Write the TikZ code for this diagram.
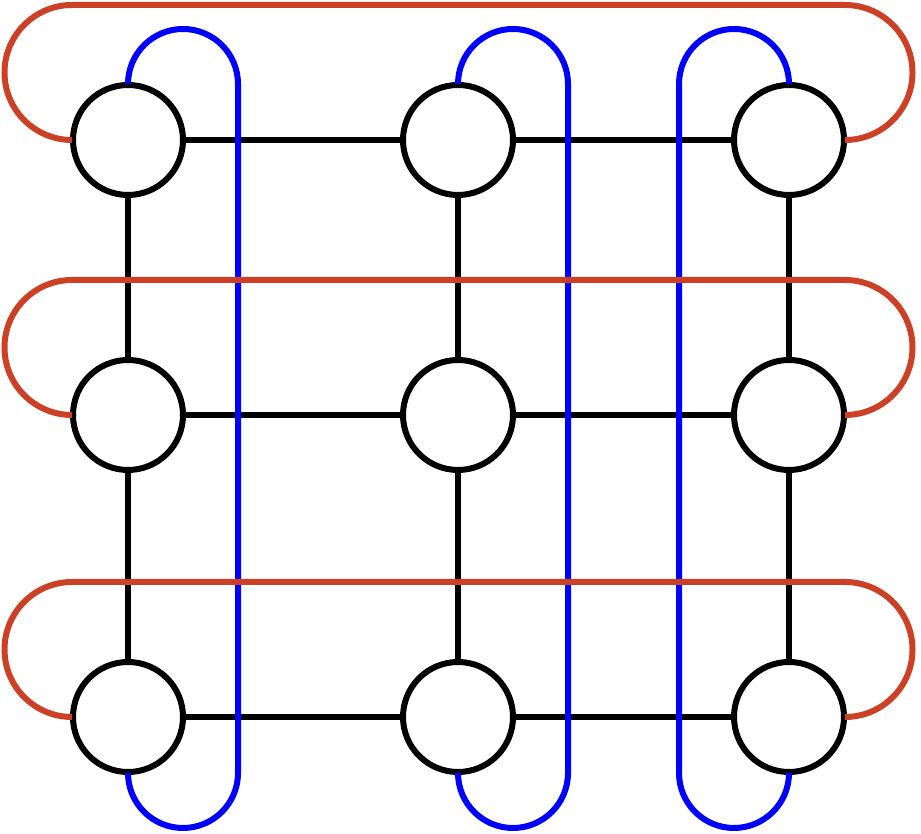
\documentclass[tikz,border=0pt]{standalone}
\definecolor{loopred}{RGB}{204,65,37}
\definecolor{loopblue}{RGB}{0,0,255}
\begin{document}
\begin{tikzpicture}[x=1pt,y=1pt,
  vertex/.style={circle,draw=black,fill=white,line width=6pt,minimum size=110pt,inner sep=0pt,outer sep=1pt},
  gridline/.style={draw=black,line width=6pt},
  redloop/.style={draw=loopred,line width=6pt},
  blueloop/.style={draw=loopblue,line width=6pt}]
\useasboundingbox (0,0) rectangle (921,834);
% nodes
\foreach \r/\y in {1/694,2/419,3/117}{
  \foreach \c/\x in {1/128,2/458,3/789}{
    \node[vertex] (n\r\c) at (\x,\y) {};
  }
}
% grid connectors
\foreach \r in {1,2,3}{
  \draw[gridline] (n\r1) -- (n\r2);
  \draw[gridline] (n\r2) -- (n\r3);
}
\foreach \c in {1,2,3}{
  \draw[gridline] (n1\c) -- (n2\c);
  \draw[gridline] (n2\c) -- (n3\c);
}
% blue column loops
\draw[blueloop] (n11.north) arc[start angle=180,end angle=0,radius=55]
  -- ([xshift=110pt]n31.south) arc[start angle=0,end angle=-180,radius=55];
\draw[blueloop] (n12.north) arc[start angle=180,end angle=0,radius=55]
  -- ([xshift=110pt]n32.south) arc[start angle=0,end angle=-180,radius=55];
\draw[blueloop] (n13.north) arc[start angle=0,end angle=180,radius=55]
  -- ([xshift=-110pt]n33.south) arc[start angle=180,end angle=360,radius=55];
% red row loops
\foreach \r in {1,2,3}{
  \draw[redloop] (n\r1.west) arc[start angle=270,end angle=90,radius=67.5]
    -- ([yshift=135pt]n\r3.east) arc[start angle=90,end angle=-90,radius=67.5];
}
\end{tikzpicture}
\end{document}
